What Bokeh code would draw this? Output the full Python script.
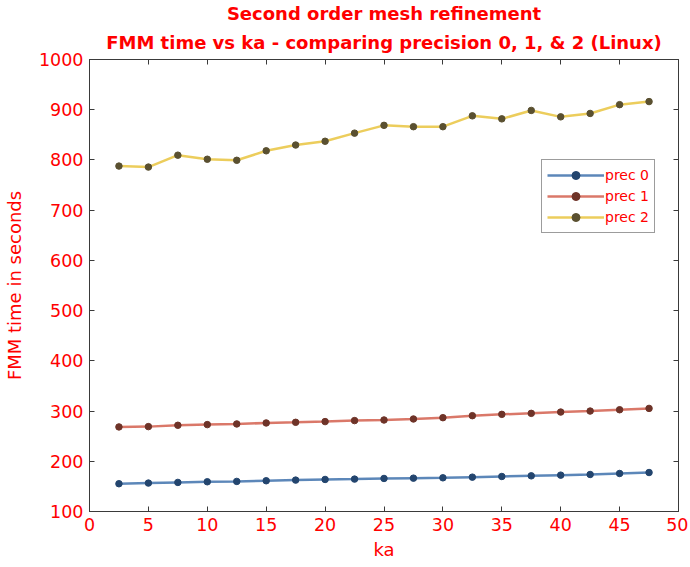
from bokeh.plotting import figure
from bokeh.models import LinearAxis, Range1d, FixedTicker, Legend, LegendItem, Title
from bokeh.embed import file_html
from bokeh.resources import INLINE

ka = [2.5, 5, 7.5, 10, 12.5, 15, 17.5, 20, 22.5, 25, 27.5, 30, 32.5, 35, 37.5, 40, 42.5, 45, 47.5]
prec0 = [155.3, 156.6, 157.9, 159.2, 159.9, 161.2, 162.5, 163.8, 164.5, 165.8, 166.4, 167.1, 168.4, 169.7, 171.0, 172.4, 173.7, 175.7, 177.6]
prec1 = [268.4, 269.0, 271.7, 273.0, 274.3, 276.3, 277.6, 279.0, 281.0, 282.2, 284.2, 286.8, 290.8, 293.4, 295.4, 298.0, 300.0, 302.6, 305.3]
prec2 = [787.8, 785.8, 809.5, 801.4, 799.3, 818.2, 829.7, 837.2, 853.4, 868.9, 866.2, 866.2, 887.8, 881.8, 898.6, 885.8, 892.6, 910.1, 916.2]
series_names = ["prec 0", "prec 1", "prec 2"]
x_ticks = [0, 5, 10, 15, 20, 25, 30, 35, 40, 45, 50]
y_ticks = [100, 200, 300, 400, 500, 600, 700, 800, 900, 1000]
title_lines = ["Second order mesh refinement", "FMM time vs ka - comparing precision 0, 1, & 2 (Linux)"]

FONT = "DejaVu Sans"
RED = "#ff0000"
FRAME = "#3a3a3a"

p = figure(width=688, height=562, output_backend="svg", toolbar_location=None,
           x_range=Range1d(0, 50), y_range=Range1d(100, 1000),
           min_border_left=89, min_border_right=10, min_border_top=59, min_border_bottom=49)
p.title = None
xb = p.below[0]
yl = p.left[0]

top = LinearAxis(ticker=FixedTicker(ticks=x_ticks), major_tick_in=5, major_tick_out=0,
                 minor_tick_line_color=None, major_label_text_color=None,
                 axis_line_color=FRAME, major_tick_line_color=FRAME, major_label_standoff=0)
right = LinearAxis(ticker=FixedTicker(ticks=y_ticks), major_tick_in=5, major_tick_out=0,
                   minor_tick_line_color=None, major_label_text_color=None,
                   axis_line_color=FRAME, major_tick_line_color=FRAME, major_label_standoff=0)
p.add_layout(top, "above")
p.add_layout(right, "right")

standoffs = [0, 13]
for txt, so in reversed(list(zip(title_lines, standoffs))):
    t = Title(text=txt, align="center", text_color=RED, text_font=FONT,
              text_font_size="18px", text_font_style="bold", text_line_height=1.0, standoff=so)
    p.add_layout(t, "above")

p.xgrid.visible = False
p.ygrid.visible = False
p.outline_line_color = FRAME
p.outline_line_width = 1
p.background_fill_color = "white"
p.border_fill_color = "white"

for ax in (xb, yl):
    ax.major_tick_in = 5
    ax.major_tick_out = 0
    ax.minor_tick_line_color = None
    ax.axis_line_color = FRAME
    ax.major_tick_line_color = FRAME
    ax.major_label_text_color = RED
    ax.major_label_text_font = FONT
    ax.major_label_text_font_size = "17.5px"
    ax.axis_label_text_color = RED
    ax.axis_label_text_font = FONT
    ax.axis_label_text_font_size = "18px"
    ax.axis_label_text_font_style = "normal"
    ax.major_label_standoff = 6

xb.ticker = FixedTicker(ticks=x_ticks)
yl.ticker = FixedTicker(ticks=y_ticks)
xb.axis_label = "ka"
yl.axis_label = "FMM time in seconds"
xb.axis_label_standoff = 5
yl.axis_label_standoff = 11

line_colors = ["#3f72ad", "#d4604f", "#e9c43f"]
marker_colors = ["#23456e", "#6e3328", "#5a5030"]
items = []
for ys, name, lc, mc in zip([prec0, prec1, prec2], series_names, line_colors, marker_colors):
    r1 = p.line(ka, ys, line_color=lc, line_width=2.5, line_alpha=0.85)
    r2 = p.scatter(ka, ys, marker="circle", size=6.5, fill_color=mc, line_color=mc)
    items.append(LegendItem(label=name, renderers=[r1, r2]))

legend = Legend(items=items, location=(452, 278), label_text_color=RED,
                label_text_font=FONT, label_text_font_size="14px",
                glyph_width=57, glyph_height=20, label_height=20, spacing=1,
                padding=5, margin=0, label_standoff=1,
                border_line_color=FRAME, border_line_width=1,
                background_fill_color="white", background_fill_alpha=1)
p.add_layout(legend, "center")

open("out.html", "w").write(file_html(p, INLINE))
